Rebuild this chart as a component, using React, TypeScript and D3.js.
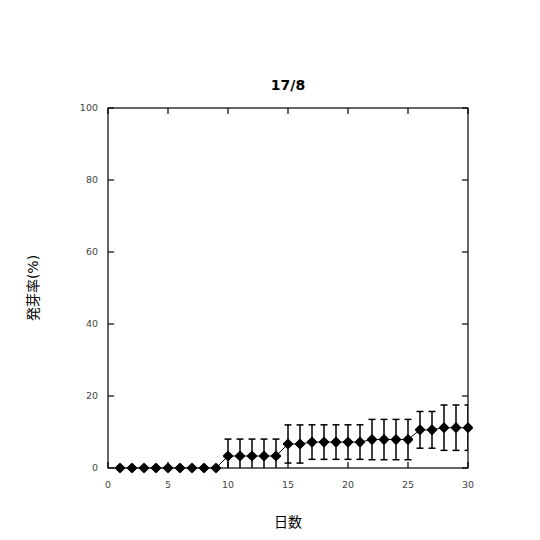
import * as d3 from "d3";
import { useEffect, useRef } from "react";

// 日数と発芽率(平均・誤差)
const days = [1, 2, 3, 4, 5, 6, 7, 8, 9, 10, 11, 12, 13, 14, 15, 16, 17, 18, 19, 20, 21, 22, 23, 24, 25, 26, 27, 28, 29, 30];
const rate = [0, 0, 0, 0, 0, 0, 0, 0, 0, 3.33, 3.33, 3.33, 3.33, 3.33, 6.67, 6.67, 7.2, 7.2, 7.2, 7.2, 7.2, 7.9, 7.9, 7.9, 7.9, 10.6, 10.6, 11.2, 11.2, 11.2];
const err = [0, 0, 0, 0, 0, 0, 0, 0, 0, 4.7, 4.7, 4.7, 4.7, 4.7, 5.3, 5.3, 4.8, 4.8, 4.8, 4.8, 4.8, 5.6, 5.6, 5.6, 5.6, 5.1, 5.1, 6.3, 6.3, 6.3];
const xTicks = [0, 5, 10, 15, 20, 25, 30];
const yTicks = [0, 20, 40, 60, 80, 100];
const title = "17/8";

const W = 540, H = 540;
const margin = { top: 108, right: 72, bottom: 72, left: 108 };

export default function App() {
  const ref = useRef<SVGSVGElement>(null);

  useEffect(() => {
    const svg = d3.select(ref.current);
    svg.selectAll("*").remove();
    const iw = W - margin.left - margin.right;
    const ih = H - margin.top - margin.bottom;

    const x = d3.scaleLinear().domain([0, 30]).range([0, iw]);
    const y = d3.scaleLinear().domain([0, 100]).range([ih, 0]);

    const g = svg.append("g").attr("transform", `translate(${margin.left},${margin.top})`);

    svg.append("defs").append("clipPath").attr("id", "plot")
      .append("rect").attr("width", iw).attr("height", ih);

    // 枠と内向きの目盛り
    g.append("rect").attr("width", iw).attr("height", ih)
      .attr("fill", "none").attr("stroke", "#000").attr("stroke-width", 1.2);
    const tl = 6;
    xTicks.forEach(t => {
      g.append("line").attr("x1", x(t)).attr("x2", x(t)).attr("y1", ih).attr("y2", ih - tl).attr("stroke", "#000").attr("stroke-width", 1.2);
      g.append("line").attr("x1", x(t)).attr("x2", x(t)).attr("y1", 0).attr("y2", tl).attr("stroke", "#000").attr("stroke-width", 1.2);
      g.append("text").attr("x", x(t)).attr("y", ih + 20).attr("text-anchor", "middle")
        .attr("font-size", 9.5).attr("fill", "#444").text(t);
    });
    yTicks.forEach(t => {
      g.append("line").attr("x1", 0).attr("x2", tl).attr("y1", y(t)).attr("y2", y(t)).attr("stroke", "#000").attr("stroke-width", 1.2);
      g.append("line").attr("x1", iw).attr("x2", iw - tl).attr("y1", y(t)).attr("y2", y(t)).attr("stroke", "#000").attr("stroke-width", 1.2);
      g.append("text").attr("x", -10).attr("y", y(t)).attr("dy", "0.35em").attr("text-anchor", "end")
        .attr("font-size", 9.5).attr("fill", "#444").text(t);
    });

    const data = days.map((d, i) => ({ d, v: rate[i], e: err[i] }));
    const plot = g.append("g").attr("clip-path", "url(#plot)");

    // 誤差棒
    data.filter(p => p.e > 0).forEach(p => {
      const cx = x(p.d);
      const y1 = y(p.v + p.e), y0 = y(p.v - p.e);
      plot.append("line").attr("x1", cx).attr("x2", cx).attr("y1", y1).attr("y2", y0).attr("stroke", "#000").attr("stroke-width", 1.5);
      [y1, y0].forEach(yy => plot.append("line").attr("x1", cx - 3.5).attr("x2", cx + 3.5).attr("y1", yy).attr("y2", yy).attr("stroke", "#000").attr("stroke-width", 1.5));
    });

    const line = d3.line<{ d: number; v: number }>().x(p => x(p.d)).y(p => y(p.v));
    plot.append("path").datum(data).attr("d", line).attr("fill", "none").attr("stroke", "#000").attr("stroke-width", 1);

    // マーカー(枠の外にはみ出してよい)
    const diamond = d3.symbol().type(d3.symbolDiamond2).size(42);
    g.selectAll(".pt").data(data).enter().append("path")
      .attr("transform", p => `translate(${x(p.d)},${y(p.v)})`)
      .attr("d", diamond()).attr("fill", "#000").attr("stroke", "#000").attr("stroke-width", 2.2).attr("stroke-linejoin", "round");

    // タイトルと軸ラベル
    svg.append("text").attr("x", margin.left + iw / 2).attr("y", 90).attr("text-anchor", "middle")
      .attr("font-size", 14).attr("font-weight", "bold").text(title);
    svg.append("text").attr("x", margin.left + iw / 2).attr("y", 527).attr("text-anchor", "middle")
      .attr("font-size", 14).text("日数");
    svg.append("text").attr("transform", `translate(38,${margin.top + ih / 2}) rotate(-90)`).attr("text-anchor", "middle")
      .attr("font-size", 14).text("発芽率(%)");
  }, []);

  return (
    <svg ref={ref} width={W} height={H} style={{ position: "absolute", left: 0, top: 0, fontFamily: "'DejaVu Sans', 'Noto Sans CJK JP', sans-serif" }} />
  );
}
